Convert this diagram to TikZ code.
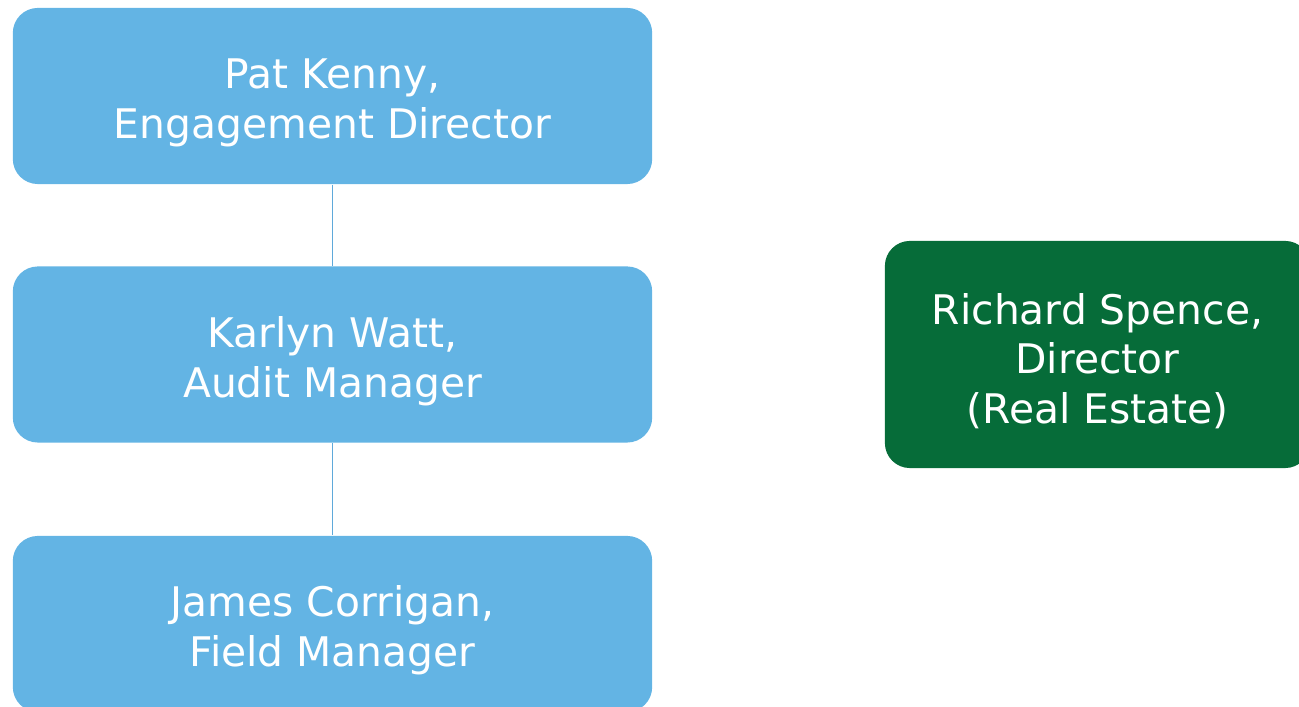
\documentclass[tikz,border=0pt]{standalone}
\usepackage{fontspec}
\setmainfont{DejaVu Sans}
\definecolor{staffblue}{HTML}{63B4E4}
\definecolor{linkblue}{HTML}{5FA9DA}
\definecolor{leadgreen}{HTML}{066C39}
% a taller first line pushes the text a little below the box middle
\newcommand{\toprow}{\rule{0pt}{12.6pt}}
\tikzset{
    rolebox/.style={fill=staffblue, rounded corners=0.25cm, text=white, align=center,
        minimum width=6.39cm, minimum height=1.76cm, inner sep=0pt,
        font=\fontsize{11.6}{14.2}\selectfont},
    headbox/.style={rolebox, fill=leadgreen, minimum width=4.25cm, minimum height=2.27cm},
    link/.style={draw=linkblue, line width=0.5pt}
}
\begin{document}
\begin{tikzpicture}[x=0.01cm, y=-0.01cm]
    \useasboundingbox (0, 0) rectangle (1299, 707);
        % audit team, top to bottom
        \node[rolebox] (kenny) at (332.5, 96) {\toprow Pat Kenny,\\Engagement Director};
        \node[rolebox] (watt) at (332.5, 354.5) {\toprow Karlyn Watt,\\Audit Manager};
        \node[rolebox] (corrigan) at (332.5, 624) {\toprow James Corrigan,\\Field Manager};
        \draw[link] (kenny.south) -- (watt.north);
        \draw[link] (watt.south) -- (corrigan.north);
        % specialist on the side
        \node[headbox] (spence) at (1097.5, 354.5) {\toprow Richard Spence,\\Director\\(Real Estate)};
    \end{tikzpicture}
\end{document}
